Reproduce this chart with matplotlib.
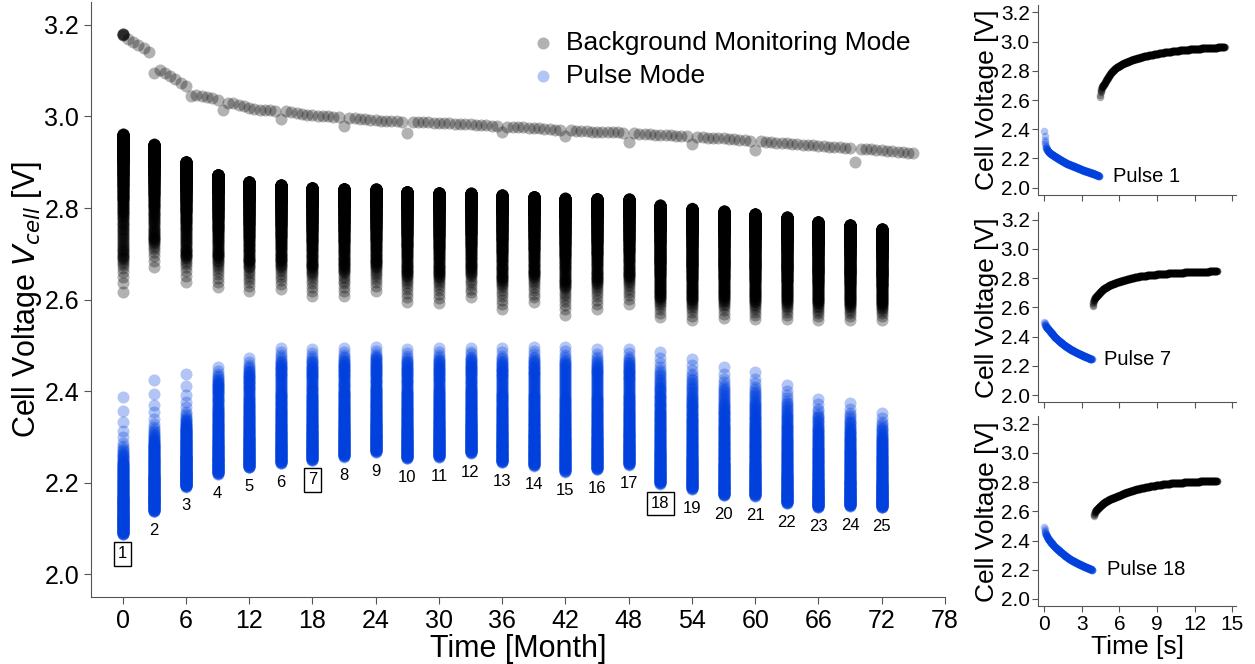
import numpy as np
import matplotlib
matplotlib.use("Agg")
import matplotlib.pyplot as plt

plt.rcParams['font.family'] = ['Liberation Sans', 'DejaVu Sans']

# pulse events (one every 3 months)
pulse_month = [0, 3, 6, 9, 12, 15, 18, 21, 24, 27, 30, 33, 36,
               39, 42, 45, 48, 51, 54, 57, 60, 63, 66, 69, 72]
pulse_start = [2.388, 2.424, 2.437, 2.453, 2.473, 2.495, 2.492, 2.495, 2.497,
               2.492, 2.494, 2.495, 2.494, 2.497, 2.497, 2.492, 2.492, 2.486,
               2.471, 2.452, 2.441, 2.414, 2.383, 2.373, 2.351]
pulse_end = [2.087, 2.137, 2.191, 2.219, 2.233, 2.242, 2.249, 2.257, 2.267,
             2.253, 2.256, 2.265, 2.244, 2.237, 2.224, 2.229, 2.239, 2.198,
             2.186, 2.172, 2.171, 2.155, 2.146, 2.149, 2.146]
rest_start = [2.617, 2.670, 2.638, 2.627, 2.618, 2.623, 2.608, 2.608, 2.619,
              2.594, 2.592, 2.605, 2.579, 2.594, 2.567, 2.579, 2.590, 2.561,
              2.555, 2.560, 2.557, 2.557, 2.555, 2.555, 2.555]
rest_end = [2.961, 2.939, 2.901, 2.873, 2.857, 2.850, 2.844, 2.842, 2.841,
            2.836, 2.833, 2.832, 2.828, 2.825, 2.821, 2.820, 2.819, 2.806,
            2.799, 2.793, 2.787, 2.780, 2.770, 2.763, 2.754]
# which inset profile gives the shape of each pulse
shape_of = [1, 1, 1, 7, 7, 7, 7, 7, 7, 7, 7, 7, 7, 7, 7, 7, 7,
            18, 18, 18, 18, 18, 18, 18, 18]
boxed = [1, 7, 18]

# background monitoring mode
bg_month = np.arange(0, 75.01, 0.5)
bg_volt = [3.180, 3.170, 3.163, 3.156, 3.149, 3.140, 3.095, 3.102, 3.096, 3.089,
           3.081, 3.073, 3.066, 3.045, 3.048, 3.045, 3.043, 3.040, 3.036, 3.014,
           3.029, 3.029, 3.026, 3.022, 3.019, 3.016, 3.015, 3.015, 3.014, 3.013,
           2.994, 3.011, 3.010, 3.008, 3.006, 3.004, 3.003, 3.002, 3.001, 3.000,
           2.999, 2.998, 2.979, 2.997, 2.996, 2.995, 2.994, 2.993, 2.992, 2.991,
           2.991, 2.990, 2.990, 2.989, 2.964, 2.988, 2.988, 2.987, 2.987, 2.986,
           2.986, 2.985, 2.985, 2.984, 2.984, 2.983, 2.983, 2.982, 2.982, 2.981,
           2.980, 2.980, 2.966, 2.978, 2.977, 2.977, 2.976, 2.975, 2.975, 2.974,
           2.973, 2.972, 2.971, 2.970, 2.957, 2.970, 2.969, 2.968, 2.968, 2.967,
           2.967, 2.966, 2.966, 2.965, 2.965, 2.964, 2.944, 2.963, 2.962, 2.962,
           2.961, 2.960, 2.960, 2.959, 2.959, 2.958, 2.958, 2.957, 2.940, 2.956,
           2.955, 2.954, 2.954, 2.953, 2.952, 2.951, 2.950, 2.949, 2.948, 2.947,
           2.926, 2.946, 2.945, 2.944, 2.943, 2.942, 2.941, 2.940, 2.939, 2.938,
           2.937, 2.937, 2.936, 2.935, 2.934, 2.933, 2.933, 2.932, 2.931, 2.900,
           2.930, 2.929, 2.928, 2.927, 2.926, 2.925, 2.924, 2.923, 2.922, 2.921,
           2.920]
bg_first_month = [0, 0, 0, 0]
bg_first_volt = [3.181, 3.180, 3.179, 3.178]

# pulse curves (time [s], voltage [V])
p1_pulse_t = [0, 0.02, 0.04, 0.06, 0.08, 0.1, 0.15, 0.25, 0.4, 0.7, 1.0, 1.4,
              1.8, 2.4, 3.1, 3.8, 4.4]
p1_pulse_v = [2.388, 2.355, 2.33, 2.312, 2.297, 2.284, 2.27, 2.255, 2.24, 2.222,
              2.205, 2.185, 2.165, 2.145, 2.12, 2.1, 2.08]
p1_rest_t = [4.45, 4.47, 4.49, 4.51, 4.55, 4.6, 4.7, 4.8, 5.0, 5.3, 5.7, 6.3,
             7.0, 8.0, 9.5, 11.0, 12.5, 14.4]
p1_rest_v = [2.62, 2.638, 2.652, 2.664, 2.678, 2.69, 2.702, 2.714, 2.745, 2.785,
             2.82, 2.85, 2.875, 2.90, 2.925, 2.942, 2.953, 2.963]
p7_pulse_t = [0, 0.02, 0.04, 0.06, 0.1, 0.2, 0.45, 0.8, 1.25, 1.7, 2.05, 2.6,
              3.1, 3.8]
p7_pulse_v = [2.503, 2.493, 2.486, 2.481, 2.474, 2.462, 2.438, 2.4, 2.365,
              2.335, 2.315, 2.29, 2.27, 2.244]
p7_rest_t = [3.85, 3.87, 3.89, 3.91, 3.95, 4.0, 4.1, 4.2, 4.45, 4.7, 5.2, 5.8,
             6.5, 7.4, 8.5, 9.8, 11.5, 13.8]
p7_rest_v = [2.607, 2.618, 2.627, 2.635, 2.648, 2.66, 2.672, 2.68, 2.705, 2.726,
             2.752, 2.772, 2.79, 2.81, 2.822, 2.832, 2.841, 2.848]
p18_pulse_t = [0, 0.02, 0.04, 0.06, 0.1, 0.2, 0.3, 0.45, 0.8, 1.25, 1.65, 2.05,
               2.6, 3.1, 3.85]
p18_pulse_v = [2.491, 2.476, 2.465, 2.457, 2.446, 2.428, 2.413, 2.395, 2.36,
               2.325, 2.297, 2.272, 2.247, 2.226, 2.199]
p18_rest_t = [3.95, 3.97, 3.99, 4.02, 4.06, 4.1, 4.2, 4.45, 4.7, 5.2, 5.8, 6.5,
              7.4, 8.5, 9.8, 11.5, 13.8]
p18_rest_v = [2.565, 2.575, 2.583, 2.592, 2.6, 2.606, 2.615, 2.635, 2.656,
              2.682, 2.702, 2.728, 2.752, 2.772, 2.789, 2.80, 2.811]

profiles = {
    1: (p1_pulse_t, p1_pulse_v, p1_rest_t, p1_rest_v),
    7: (p7_pulse_t, p7_pulse_v, p7_rest_t, p7_rest_v),
    18: (p18_pulse_t, p18_pulse_v, p18_rest_t, p18_rest_v),
}
inset_text_t = {1: 5.5, 7: 4.8, 18: 5.0}

BLUE = '#0040dd'
SAMPLE = 0.02  # logging interval [s]


def sampled(t_anchor, v_anchor):
    t = np.arange(t_anchor[0], t_anchor[-1] + 1e-9, SAMPLE)
    return t, np.interp(t, t_anchor, v_anchor)


fig = plt.figure(figsize=(12.55, 6.64), dpi=100)
ax = fig.add_axes([0.0725, 0.1009, 0.6805, 0.896])

ax.scatter(bg_month, bg_volt, s=75, color='black', alpha=0.3, linewidths=0,
           label='Background Monitoring Mode')
ax.scatter(bg_first_month, bg_first_volt, s=75, color='black', alpha=0.3, linewidths=0)

for i, m in enumerate(pulse_month):
    pt, pv, rt, rv = profiles[shape_of[i]]
    _, v = sampled(pt, pv)
    shape = (v - v[-1]) / (v[0] - v[-1])
    vb = pulse_end[i] + (pulse_start[i] - pulse_end[i]) * shape
    _, v = sampled(rt, rv)
    shape = (v - v[0]) / (v[-1] - v[0])
    vk = rest_start[i] + (rest_end[i] - rest_start[i]) * shape
    ax.scatter(np.full(len(vk), m), vk, s=75, color='black', alpha=0.3,
               linewidths=0, snap=False)
    ax.scatter(np.full(len(vb), m), vb, s=75, color=BLUE, alpha=0.3, linewidths=0,
               snap=False, label='Pulse Mode' if i == 0 else None)

    n = i + 1
    if n in boxed:
        ax.text(m, pulse_end[i] - 0.043, str(n), ha='center', va='center', fontsize=12,
                bbox=dict(boxstyle='square,pad=0.25', fc='white', ec='black', lw=1))
    else:
        ax.text(m, pulse_end[i] - 0.042, str(n), ha='center', va='center', fontsize=12)

ax.set_xlim(-3, 78)
ax.set_ylim(1.95, 3.25)
ax.set_xticks(np.arange(0, 79, 6))
ax.set_yticks(np.arange(2.0, 3.21, 0.2))
ax.set_yticklabels(['%.1f' % y for y in np.arange(2.0, 3.21, 0.2)])
ax.set_xlabel('Time [Month]', fontsize=22, labelpad=1)
ax.set_ylabel('Cell Voltage $V_{cell}$ [V]', fontsize=22, labelpad=0)
ax.tick_params(labelsize=18, length=5, color='#555555')
for sp in ['top', 'right']:
    ax.spines[sp].set_visible(False)
for sp in ['left', 'bottom']:
    ax.spines[sp].set_color('#555555')

ax.legend(loc='upper left', bbox_to_anchor=(0.514, 0.952), frameon=False,
          fontsize=19, handlelength=1.0, handletextpad=0.35, labelspacing=0.35,
          borderaxespad=0, borderpad=0, scatterpoints=1)

# insets with single pulses
inset_bottoms = [0.7063, 0.394, 0.0869]
for k, (num, b) in enumerate(zip(boxed, inset_bottoms)):
    a = fig.add_axes([0.8271, b, 0.1578, 0.286])
    pt, pv, rt, rv = profiles[num]
    t1, v1 = sampled(pt, pv)
    t2, v2 = sampled(rt, rv)
    a.scatter(t2, v2, s=30, color='black', alpha=0.3, linewidths=0, snap=False)
    a.scatter(t1, v1, s=30, color=BLUE, alpha=0.3, linewidths=0, snap=False)
    a.text(inset_text_t[num], pv[-1], 'Pulse %d' % num, fontsize=14.5, va='center')
    a.set_xlim(-0.5, 15.3)
    a.set_ylim(1.95, 3.25)
    a.set_xticks(np.arange(0, 16, 3))
    a.set_yticks(np.arange(2.0, 3.21, 0.2))
    a.set_yticklabels(['%.1f' % y for y in np.arange(2.0, 3.21, 0.2)])
    a.set_ylabel('Cell Voltage [V]', fontsize=19, labelpad=1)
    a.tick_params(labelsize=15, length=4, color='#555555', pad=2)
    if k < 2:
        a.set_xticklabels([])
    else:
        a.set_xlabel('Time [s]', fontsize=19, labelpad=1)
    for sp in ['top', 'right']:
        a.spines[sp].set_visible(False)
    for sp in ['left', 'bottom']:
        a.spines[sp].set_color('#555555')

fig.savefig('out.png', dpi=100)
